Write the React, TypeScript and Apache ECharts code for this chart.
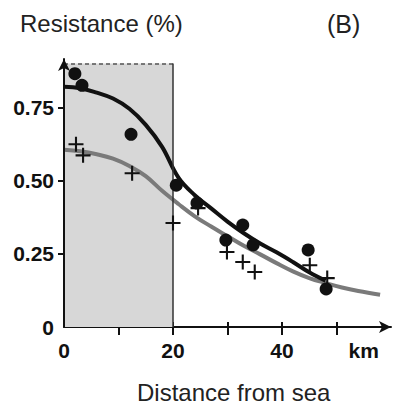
import React, { useEffect, useRef } from "react";
import * as echarts from "echarts";

// Observed points: circles (black) and crosses
const circleDist = [2.0, 3.3, 12.3, 20.6, 24.4, 29.7, 32.8, 34.7, 44.8, 48.1];
const circleRes = [0.865, 0.825, 0.658, 0.484, 0.423, 0.297, 0.348, 0.28, 0.263, 0.13];
const crossDist = [2.2, 3.5, 12.5, 20.0, 24.6, 29.9, 32.8, 35.0, 45.1, 48.3];
const crossRes = [0.624, 0.586, 0.525, 0.355, 0.406, 0.256, 0.222, 0.188, 0.211, 0.167];

// Fitted curves
const blackDist = [0, 3, 6, 9, 12, 15, 18, 21, 24, 27, 30, 33, 36, 39, 42, 45, 48];
const blackRes = [0.82, 0.815, 0.8, 0.78, 0.745, 0.69, 0.615, 0.51, 0.45, 0.405, 0.36, 0.32, 0.285, 0.255, 0.222, 0.187, 0.158];
const grayDist = [0, 3, 6, 9, 12, 15, 18, 21, 24, 27, 30, 33, 36, 39, 42, 45, 48, 51, 54, 58];
const grayRes = [0.605, 0.6, 0.59, 0.575, 0.55, 0.515, 0.465, 0.42, 0.378, 0.343, 0.31, 0.277, 0.248, 0.218, 0.19, 0.167, 0.15, 0.135, 0.123, 0.11];

// Coastal zone (shaded)
const zoneStart = 0;
const zoneEnd = 20;
const zoneTop = 0.9;

const yTickValues = [0.25, 0.5, 0.75];
const yLabelValues = [0, 0.25, 0.5, 0.75];
const xTickValues = [10, 20, 30, 40, 50];
const xLabelValues = [0, 20, 40, 55];
const unitLabel = "km";

const zip = (a: number[], b: number[]) => a.map((v, i) => [v, b[i]]);

const plusPath =
  "path://M0.43,0 H0.57 V0.43 H1 V0.57 H0.57 V1 H0.43 V0.57 H0 V0.43 H0.43 Z";

export default function App() {
  const ref = useRef<HTMLDivElement>(null);
  useEffect(() => {
    if (!ref.current) return;
    const chart = echarts.init(ref.current, null, { renderer: "svg" });
    const font = "'Liberation Sans', Arial, sans-serif";
    const tickLabel = {
      fontFamily: font,
      fontWeight: "bold" as const,
      fontSize: 21,
      color: "#111",
    };
    chart.setOption({
      animation: false,
      backgroundColor: "#fff",
      grid: {
        left: 64,
        top: 59,
        width: 327,
        height: 268,
        containLabel: false,
        outerBoundsMode: "none",
      },
      xAxis: [
        {
          type: "value",
          min: 0,
          max: 60,
          position: "bottom",
          splitLine: { show: false },
          axisLine: {
            show: true,
            onZero: false,
            lineStyle: { color: "#111", width: 2 },
            symbol: ["none", "arrow"],
            symbolSize: [9, 12],
          },
          axisTick: {
            show: true,
            customValues: xTickValues,
            length: 8,
            lineStyle: { color: "#111", width: 2 },
          },
          axisLabel: {
            ...tickLabel,
            customValues: xLabelValues,
            margin: 13,
            formatter: (v: number) => (v === 55 ? unitLabel : String(v)),
          },
        },
        {
          type: "value",
          min: 0,
          max: 60,
          position: "bottom",
          splitLine: { show: false },
          axisLine: { show: false, onZero: false },
          axisTick: {
            show: true,
            inside: true,
            customValues: xTickValues,
            length: 5,
            lineStyle: { color: "#111", width: 2 },
          },
          axisLabel: { show: false },
        },
      ],
      yAxis: [
        {
          type: "value",
          min: 0,
          max: 0.915,
          position: "left",
          z: 10,
          splitLine: { show: false },
          axisLine: {
            show: true,
            onZero: false,
            lineStyle: { color: "#111", width: 2 },
            symbol: ["none", "arrow"],
            symbolSize: [9, 12],
          },
          axisTick: {
            show: true,
            customValues: yTickValues,
            length: 6,
            lineStyle: { color: "#111", width: 2 },
          },
          axisLabel: {
            ...tickLabel,
            customValues: yLabelValues,
            margin: 10,
            formatter: (v: number) => (v === 0 ? "0" : v.toFixed(2)),
          },
        },
        {
          type: "value",
          min: 0,
          max: 0.915,
          position: "left",
          splitLine: { show: false },
          axisLine: { show: false, onZero: false },
          axisTick: {
            show: true,
            inside: true,
            customValues: yTickValues,
            length: 7,
            lineStyle: { color: "#111", width: 2 },
          },
          axisLabel: { show: false },
        },
      ],
      series: [
        {
          type: "line",
          data: [],
          z: 0,
          silent: true,
          markArea: {
            silent: true,
            itemStyle: { color: "#d7d7d7" },
            data: [[{ coord: [zoneStart, 0] }, { coord: [zoneEnd, zoneTop] }]],
          },
          markLine: {
            silent: true,
            symbol: ["none", "none"],
            label: { show: false },
            data: [
              [
                { coord: [zoneStart, zoneTop], lineStyle: { color: "#555", width: 1.5, type: [4, 3] } },
                { coord: [zoneEnd, zoneTop] },
              ],
              [
                { coord: [zoneEnd, 0], lineStyle: { color: "#333", width: 1.5, type: "solid" } },
                { coord: [zoneEnd, zoneTop] },
              ],
            ],
          },
        },
        {
          type: "line",
          data: zip(grayDist, grayRes),
          smooth: 0.4,
          showSymbol: false,
          symbol: "none",
          z: 3,
          lineStyle: { color: "#7a7a7a", width: 4 },
        },
        {
          type: "line",
          data: zip(blackDist, blackRes),
          smooth: 0.4,
          showSymbol: false,
          symbol: "none",
          z: 4,
          lineStyle: { color: "#111", width: 4 },
        },
        {
          type: "scatter",
          data: zip(crossDist, crossRes),
          symbol: plusPath,
          symbolSize: 15,
          z: 5,
          itemStyle: { color: "#111", opacity: 1 },
        },
        {
          type: "scatter",
          data: zip(circleDist, circleRes),
          symbol: "circle",
          symbolSize: 13,
          z: 6,
          itemStyle: { color: "#111", opacity: 1 },
        },
      ],
      graphic: [
        {
          type: "text",
          left: 20,
          top: 11,
          style: {
            text: "Resistance (%)",
            fontFamily: font,
            fontSize: 24,
            fill: "#222",
          },
        },
        {
          type: "text",
          left: 327,
          top: 11,
          style: {
            text: "(B)",
            fontFamily: font,
            fontSize: 25,
            fill: "#222",
          },
        },
        {
          type: "text",
          left: 137,
          top: 380,
          style: {
            text: "Distance from sea",
            fontFamily: font,
            fontSize: 24,
            fill: "#222",
          },
        },
      ],
    });
    return () => chart.dispose();
  }, []);
  return (
    <div
      ref={ref}
      style={{ position: "fixed", left: 0, top: 0, width: 397, height: 405 }}
    />
  );
}
